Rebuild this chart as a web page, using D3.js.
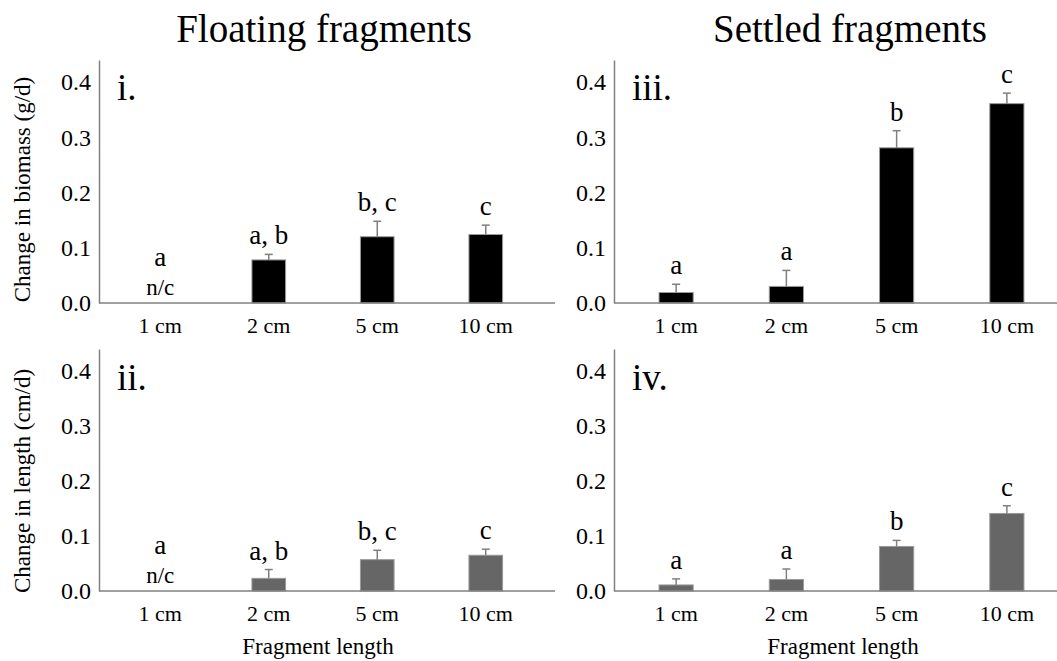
<!DOCTYPE html>
<html lang="en">
<head>
<meta charset="utf-8">
<title>Fragment growth</title>
<script src="https://d3js.org/d3.v7.min.js"></script>
<style>
  body { margin: 0; background: #fff; }
  svg text { font-family: "Liberation Serif", "Times New Roman", serif; fill: #000; }
  .axis path, .axis line { stroke: #808080; stroke-width: 1.5; }
</style>
</head>
<body>
<div id="main"></div>
<script>
    // data (mean change, upper SE length)
    const categories = ['1 cm', '2 cm', '5 cm', '10 cm'];
    const floatBiomass = [null, 0.078, 0.120, 0.124];
    const floatBiomassSE = [null, 0.010, 0.028, 0.017];
    const settledBiomass = [0.019, 0.030, 0.281, 0.361];
    const settledBiomassSE = [0.015, 0.029, 0.031, 0.019];
    const floatLength = [null, 0.023, 0.057, 0.065];
    const floatLengthSE = [null, 0.016, 0.017, 0.011];
    const settledLength = [0.011, 0.021, 0.081, 0.141];
    const settledLengthSE = [0.011, 0.019, 0.011, 0.014];
    const floatLetters = ['a', 'a, b', 'b, c', 'c'];
    const settledLetters = ['a', 'a', 'b', 'c'];
    const yTicks = [0, 0.1, 0.2, 0.3, 0.4];
    const yMax = 0.44;

    const width = 1057;
    const height = 661;

    const svg = d3.select('#main')
        .append('svg')
        .attr('width', width)
        .attr('height', height);

    // column / row geometry
    const cols = [
        {axisX: 99, axisEnd: 555, band: [106, 540], title: 'Floating fragments', titleX: 324, xLabelX: 318},
        {axisX: 614, axisEnd: 1057, band: [621, 1062], title: 'Settled fragments', titleX: 850, xLabelX: 843}
    ];
    const rows = [
        {base: 303, top: 60, fill: '#000000', label: 'Change in biomass (g/d)', labelY: 189.5},
        {base: 591, top: 349, fill: '#666666', label: 'Change in length (cm/d)', labelY: 481}
    ];

    const panels = [
        {col: 0, row: 0, tag: 'i.', values: floatBiomass, se: floatBiomassSE, letters: floatLetters},
        {col: 1, row: 0, tag: 'iii.', values: settledBiomass, se: settledBiomassSE, letters: settledLetters},
        {col: 0, row: 1, tag: 'ii.', values: floatLength, se: floatLengthSE, letters: floatLetters},
        {col: 1, row: 1, tag: 'iv.', values: settledLength, se: settledLengthSE, letters: settledLetters}
    ];

    panels.forEach(p => {
        const c = cols[p.col];
        const r = rows[p.row];
        const g = svg.append('g');

        const x = d3.scaleBand()
            .domain(categories)
            .range(c.band)
            .paddingInner(0.69)
            .paddingOuter(0.345);

        const y = d3.scaleLinear()
            .domain([0, yMax])
            .range([r.base, r.top]);

        const yAxis = d3.axisLeft(y)
            .tickValues(yTicks)
            .tickFormat(d3.format('.1f'))
            .tickSize(0)
            .tickSizeOuter(0)
            .tickPadding(8);

        g.append('g')
            .attr('class', 'axis')
            .attr('transform', `translate(${c.axisX}, 0)`)
            .call(yAxis)
            .selectAll('text')
            .attr('font-size', 24);

        const xAxis = d3.axisBottom(x)
            .tickSize(0)
            .tickPadding(14);

        const xg = g.append('g')
            .attr('class', 'axis')
            .attr('transform', `translate(0, ${r.base})`)
            .call(xAxis);
        xg.select('.domain').remove();
        xg.selectAll('text').attr('font-size', 22);

        const rowsData = categories.map((cat, i) => ({
            cat: cat, v: p.values[i], se: p.se[i], letter: p.letters[i]
        }));
        const withData = rowsData.filter(d => d.v !== null);

        g.selectAll('rect.bar')
            .data(withData)
            .enter()
            .append('rect')
            .attr('class', 'bar')
            .attr('x', d => x(d.cat))
            .attr('y', d => y(d.v))
            .attr('width', x.bandwidth())
            .attr('height', d => y(0) - y(d.v))
            .attr('fill', r.fill)
            .attr('stroke', '#9a9a9a')
            .attr('stroke-width', 1);

        // upper error bars
        const cx = d => x(d.cat) + x.bandwidth() / 2;
        g.selectAll('line.err')
            .data(withData)
            .enter()
            .append('line')
            .attr('x1', cx).attr('x2', cx)
            .attr('y1', d => y(d.v))
            .attr('y2', d => y(d.v + d.se))
            .attr('stroke', '#808080')
            .attr('stroke-width', 1.5);
        g.selectAll('line.cap')
            .data(withData)
            .enter()
            .append('line')
            .attr('x1', d => cx(d) - 4).attr('x2', d => cx(d) + 4)
            .attr('y1', d => y(d.v + d.se))
            .attr('y2', d => y(d.v + d.se))
            .attr('stroke', '#808080')
            .attr('stroke-width', 1.5);

        // significance letters
        g.selectAll('text.letter')
            .data(rowsData)
            .enter()
            .append('text')
            .attr('text-anchor', 'middle')
            .attr('font-size', 27)
            .attr('x', cx)
            .attr('y', d => d.v === null ? y(0) - 37 : y(d.v + d.se) - 10)
            .text(d => d.letter);

        rowsData.filter(d => d.v === null).forEach(d => {
            g.append('text')
                .attr('text-anchor', 'middle')
                .attr('font-size', 23)
                .attr('x', cx(d))
                .attr('y', y(0) - 8)
                .text('n/c');
        });

        // bottom axis line
        g.append('line')
            .attr('x1', c.axisX).attr('x2', c.axisEnd)
            .attr('y1', y(0)).attr('y2', y(0))
            .attr('stroke', '#808080')
            .attr('stroke-width', 1.5);

        g.append('text')
            .attr('x', c.axisX + 18)
            .attr('y', r.top + (p.row === 0 ? 40 : 41))
            .attr('font-size', 37)
            .text(p.tag);
    });

    cols.forEach(c => {
        svg.append('text')
            .attr('x', c.titleX)
            .attr('y', 42)
            .attr('text-anchor', 'middle')
            .attr('font-size', 39)
            .text(c.title);
        svg.append('text')
            .attr('x', c.xLabelX)
            .attr('y', 654)
            .attr('text-anchor', 'middle')
            .attr('font-size', 23)
            .text('Fragment length');
    });

    rows.forEach(r => {
        svg.append('text')
            .attr('transform', `translate(30, ${r.labelY}) rotate(-90)`)
            .attr('text-anchor', 'middle')
            .attr('font-size', 23)
            .text(r.label);
    });
</script>
</body>
</html>
